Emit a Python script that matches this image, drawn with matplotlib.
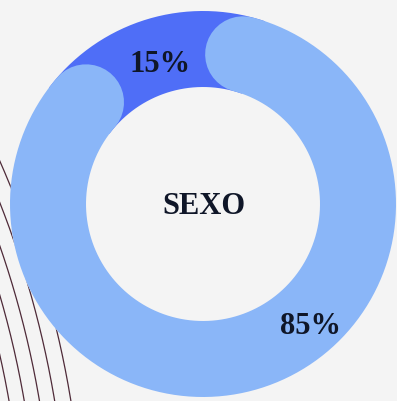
import numpy as np
import matplotlib.pyplot as plt

# share of each group, in percent
groups = ['15%', '85%']
shares = [15, 85]
center_label = 'SEXO'

W, H = 397, 402
cx, cy = 203, 205          # ring centre, pixels
r_out, r_in = 193, 117
r_mid = (r_out + r_in) / 2
ring_w = r_out - r_in

dark_blue = '#4f6ef7'
light_blue = '#8ab6f8'
text_col = '#0f1628'
bg = '#f4f4f4'

plt.rcParams['font.family'] = ['Liberation Serif', 'DejaVu Serif']

fig = plt.figure(figsize=(W / 100, H / 100), dpi=100)
fig.patch.set_facecolor(bg)
ax = fig.add_axes([0, 0, 1, 1])
ax.set_xlim(0, W)
ax.set_ylim(H, 0)
ax.axis('off')


def arc(a0, a1, r, n=400):
    a = np.radians(np.linspace(a0, a1, n))
    return cx + r * np.cos(a), cy - r * np.sin(a)


# thin decorative curves in the lower left corner (large, gentle arcs)
for r in [936, 951, 966, 981, 997]:
    t = np.radians(np.linspace(-40, 0, 800))
    xs = -913 + r * np.cos(t)
    ys = 563 + r * np.sin(t)
    ax.plot(xs, ys, color='#4e2a38', lw=0.9, zorder=1)

# background disc so the curves stop under the ring
theta = np.linspace(0, 2 * np.pi, 400)
ax.fill(cx + r_out * np.cos(theta), cy + r_out * np.sin(theta), color=bg, zorder=2, lw=0)

lw_pt = ring_w * 72 / 100
pad = 5                      # extra space around the small segment
mid = 107                    # angle where the small segment sits
span_small = shares[0] / 100 * 360
a_start = mid - span_small / 2 - pad
a_end = mid + span_small / 2 + pad

# small segment (under the rounded ends of the large one)
x, y = arc(a_start - 4, a_end + 4, r_mid)
ax.plot(x, y, color=dark_blue, lw=lw_pt, solid_capstyle='butt', zorder=3)

# large segment, rounded ends
x, y = arc(a_end, a_start + 360, r_mid)
ax.plot(x, y, color=light_blue, lw=lw_pt, solid_capstyle='round', zorder=4)

# labels
lab_pos = [(mid, 147), (-48.5, 162)]
for g, (a, r) in zip(groups, lab_pos):
    ax.text(cx + r * np.cos(np.radians(a)), cy - r * np.sin(np.radians(a)), g,
            ha='center', va='center', fontsize=22, fontweight='bold',
            color=text_col, zorder=5)

ax.text(cx + 1, cy + 2, center_label, ha='center', va='center', fontsize=22,
        fontweight='bold', color=text_col, zorder=5)

fig.savefig('out.png', dpi=100, facecolor=bg)
